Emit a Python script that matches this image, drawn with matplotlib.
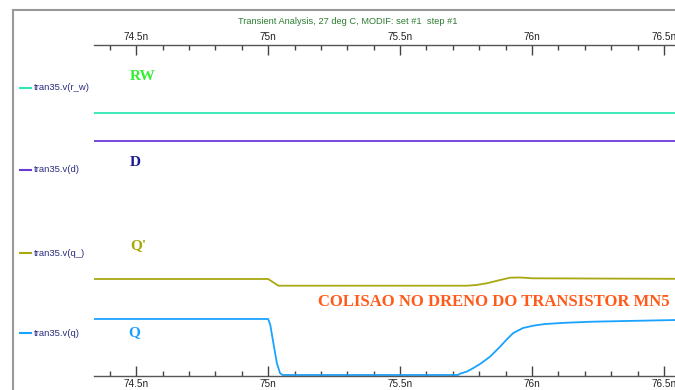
import numpy as np
import matplotlib
matplotlib.use('Agg')
import matplotlib.pyplot as plt
from matplotlib.lines import Line2D
from matplotlib.ticker import MultipleLocator, FuncFormatter

# time axis in ns
t_start, t_end = 74.34, 76.542

# stacked node voltages (display units, Q swing = 1)
rw_level = 4.614
d_level = 4.123

q_t = [74.34, 75.0, 75.008, 75.020, 75.033, 75.045, 75.055, 75.72, 75.727, 75.754,
       75.778, 75.803, 75.841, 75.879, 75.902, 75.929, 75.966, 76.004, 76.049,
       76.131, 76.231, 76.409, 76.542]
q_v = [1.0, 1.0, 0.90, 0.574, 0.228, 0.05, 0.018, 0.018, 0.04, 0.079,
       0.14, 0.21, 0.339, 0.514, 0.63, 0.754, 0.842, 0.882, 0.912,
       0.935, 0.953, 0.970, 0.982]

qb_t = [74.34, 75.0, 75.039, 75.753, 75.788, 75.828, 75.879, 75.917, 75.955, 76.004, 76.542]
qb_v = [1.702, 1.702, 1.584, 1.584, 1.596, 1.626, 1.684, 1.725, 1.728, 1.714, 1.705]

trace_names = ['tran35.v(r_w)', 'tran35.v(d)', 'tran35.v(q_)', 'tran35.v(q)']
trace_colors = ['#2ee8b4', '#6a3ad8', '#a8a812', '#1aa2ff']

W, H = 675, 390
fig = plt.figure(figsize=(W / 100, H / 100), dpi=100)
fig.patch.set_facecolor('white')
ax = fig.add_axes([94 / W, 14 / H, (W - 94) / W, (376 - 45) / H])

ax.plot([t_start, t_end], [rw_level, rw_level], color=trace_colors[0], lw=1.3)
ax.plot([t_start, t_end], [d_level, d_level], color=trace_colors[1], lw=1.3)
ax.plot(qb_t, qb_v, color=trace_colors[2], lw=1.3)
ax.plot(q_t, q_v, color=trace_colors[3], lw=1.3)

ax.set_xlim(t_start, t_end)
ax.set_ylim(0, 331 / 57)

for side in ['left', 'right']:
    ax.spines[side].set_visible(False)
for side in ['top', 'bottom']:
    ax.spines[side].set_color('#555555')
    ax.spines[side].set_linewidth(1.0)

ax.set_yticks([])
ax.xaxis.set_major_locator(MultipleLocator(0.5))
ax.xaxis.set_minor_locator(MultipleLocator(0.1))
ax.xaxis.set_major_formatter(FuncFormatter(lambda v, p: f'{v:g}n'))
ax.tick_params(axis='x', which='both', direction='in', top=True, bottom=True,
               labeltop=True, labelbottom=True, color='#444444')
ax.tick_params(axis='x', which='major', length=7.5, width=1.0, pad=2,
               labelsize=7.2, labelcolor='#222222')
ax.tick_params(axis='x', which='minor', length=3.5, width=1.0)
for lab in ax.get_xticklabels(which='both'):
    lab.set_family('Liberation Sans')

# outer frame
fig.add_artist(Line2D([13 / W, 13 / W], [0, 1 - 10 / H], color='#999999', lw=1.5))
fig.add_artist(Line2D([13 / W, 1], [1 - 10 / H, 1 - 10 / H], color='#999999', lw=1.5))

fig.text(348 / W, 1 - 22 / H, 'Transient Analysis, 27 deg C, MODIF: set #1  step #1',
         ha='center', va='center', fontsize=6.7, color='#2e7d32', family='Liberation Sans')

# trace legend on the left
legend_y = [88, 170, 253, 333]
for name, col, y in zip(trace_names, trace_colors, legend_y):
    fy = 1 - y / H
    fig.add_artist(Line2D([20 / W, 31 / W], [fy, fy], color=col, lw=1.5))
    fig.text(34 / W, fy, name, ha='left', va='center', fontsize=6.8,
             color='#2b2b80', family='Liberation Sans')

serif = dict(family='Liberation Serif', fontweight='bold', va='center', ha='left')
ax.text(74.477, 5.263, 'RW', color='#33ee33', fontsize=11, **serif)
ax.text(74.477, 3.754, 'D', color='#1a1a99', fontsize=11, **serif)
ax.text(74.477, 2.28, "Q'", color='#a8a800', fontsize=11, **serif)
ax.text(74.47, 0.754, 'Q', color='#1a9fff', fontsize=11, **serif)
ax.text(75.189, 1.298, 'COLISAO NO DRENO DO TRANSISTOR MN5', color='#ff5a1a',
        fontsize=12, **serif)

fig.savefig('out.png', dpi=100)
